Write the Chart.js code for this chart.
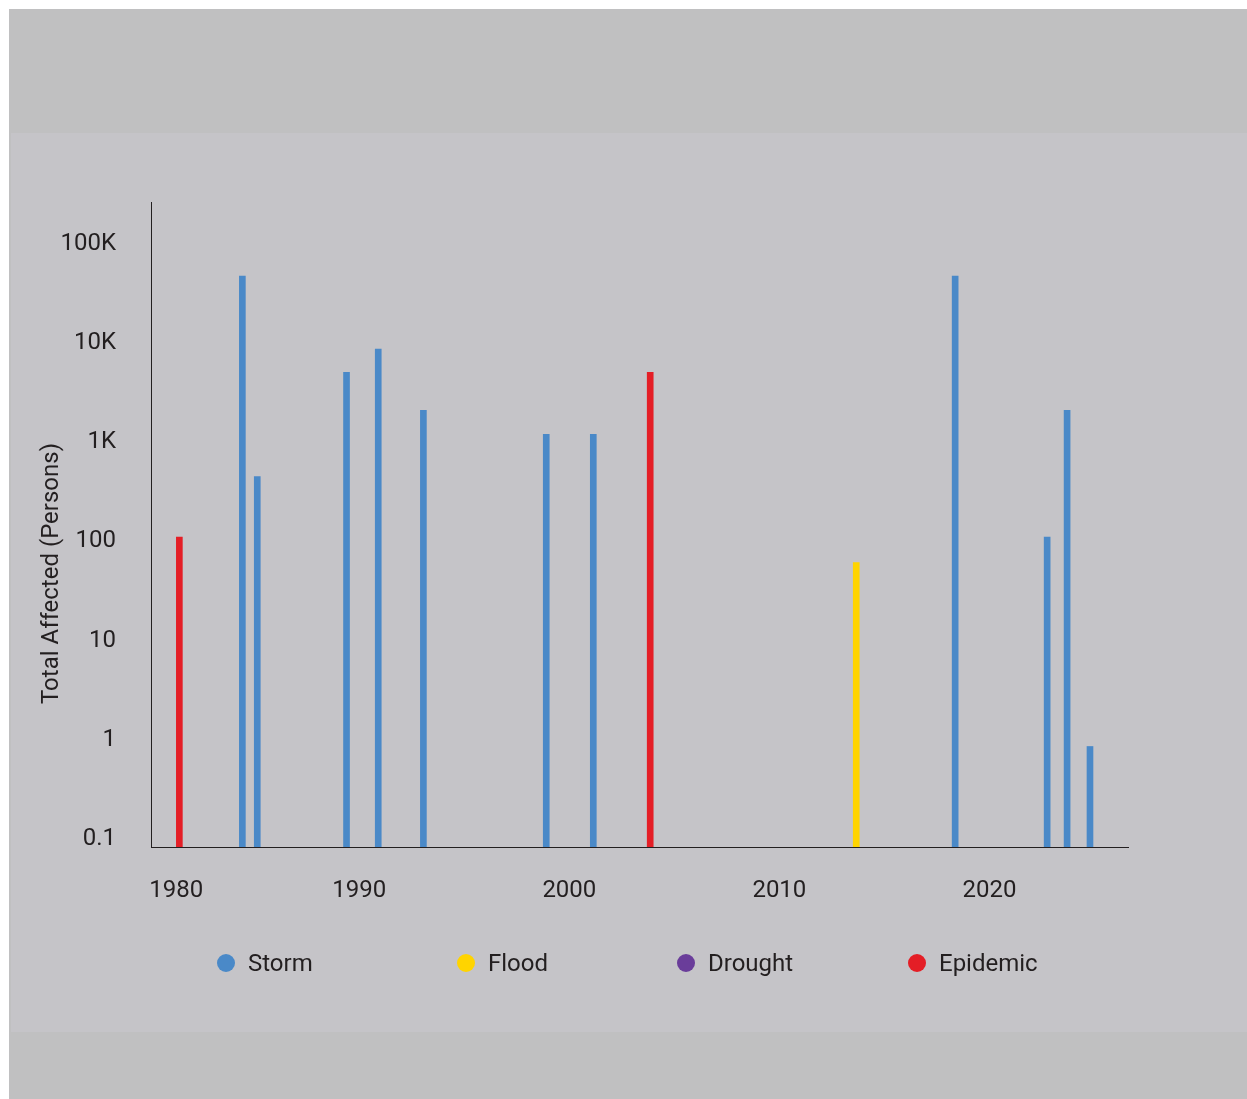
<!DOCTYPE html>
<html>
<head>
<meta charset="utf-8">
<script src="https://cdn.jsdelivr.net/npm/chart.js@4.4.1/dist/chart.umd.min.js"></script>
<style>
  html, body { margin: 0; padding: 0; background: #ffffff; }
  body { width: 1247px; height: 1099px; position: relative; overflow: hidden; font-family: Roboto, sans-serif; }
  .band { position: absolute; left: 9px; top: 9px; width: 1238px; height: 1090px; background: #c0c0c1; }
  .panel { position: absolute; left: 11px; top: 133px; width: 1236px; height: 899px; background: #c5c4c8; }
  #chart { position: absolute; left: 0; top: 0; }
  .legend-item { position: absolute; top: 949px; height: 28px; display: flex; align-items: center; font-size: 24px; color: #231f20; white-space: nowrap; }
  .legend-item span.dot { width: 18px; height: 18px; border-radius: 50%; margin-right: 13px; display: inline-block; }
</style>
</head>
<body>
<div class="band"></div>
<div class="panel"></div>
<canvas id="chart" width="1247" height="1099"></canvas>
<div id="legend"></div>
<script>
// year (decimal) and total affected persons, per disaster type
const stormYears = [1984.43, 1985.14, 1989.39, 1990.9, 1993.05, 1998.9, 2001.14, 2018.37, 2022.75, 2023.7, 2024.79];
const stormValues = [44000, 420, 4700, 8100, 1950, 1120, 1120, 44000, 103, 1950, 0.8];
const floodYears = [2013.66];
const floodValues = [57];
const droughtYears = [];
const droughtValues = [];
const epidemicYears = [1981.43, 2003.85];
const epidemicValues = [103, 4700];

const yTicks = [0.1, 1, 10, 100, 1000, 10000, 100000];
const yTickLabels = ["0.1", "1", "10", "100", "1K", "10K", "100K"];
const xTicks = [1980, 1990, 2000, 2010, 2020];
const yTitle = "Total Affected (Persons)";

const seriesNames = ["Storm", "Flood", "Drought", "Epidemic"];
const seriesColors = ["#4a89c8", "#ffd400", "#6a3d9a", "#e41e26"];
const textColor = "#231f20";

const toPoints = (xs, ys) => xs.map((x, i) => ({ x: x, y: ys[i] }));
const seriesData = [
  toPoints(stormYears, stormValues),
  toPoints(floodYears, floodValues),
  toPoints(droughtYears, droughtValues),
  toPoints(epidemicYears, epidemicValues),
];

Chart.defaults.font.family = "Roboto";
Chart.defaults.font.size = 24;
Chart.defaults.color = textColor;

// y axis title sits lower than the axis centre in the original
const yTitlePlugin = {
  id: "yTitle",
  afterDraw(chart) {
    const area = chart.chartArea;
    const ctx = chart.ctx;
    ctx.save();
    ctx.translate(area.left - 93, (area.top + area.bottom) / 2 + 49);
    ctx.rotate(-Math.PI / 2);
    ctx.font = "24px Roboto";
    ctx.fillStyle = textColor;
    ctx.textAlign = "center";
    ctx.textBaseline = "alphabetic";
    ctx.fillText(yTitle, 0, 0);
    ctx.restore();
  },
};

const ctx = document.getElementById("chart").getContext("2d");
const chart = new Chart(ctx, {
  type: "bar",
  data: {
    datasets: seriesNames.map((name, i) => ({
      label: name,
      data: seriesData[i],
      backgroundColor: seriesColors[i],
      borderWidth: 0,
      barThickness: 6,
      grouped: false,
    })),
  },
  options: {
    responsive: false,
    animation: false,
    layout: {
      padding: { top: 202, right: 119, bottom: 172, left: 0 },
    },
    plugins: {
      legend: { display: false },
      tooltip: { enabled: false },
    },
    scales: {
      x: {
        type: "linear",
        offset: false,
        min: 1980.08,
        max: 2026.6,
        grid: { display: false, drawTicks: false },
        border: { display: true, color: textColor, width: 1 },
        afterBuildTicks: (scale) => {
          scale.ticks = xTicks.map((v) => ({ value: v })).concat([{ value: scale.max }]);
        },
        afterFit: (scale) => {
          scale.height = 80;
        },
        ticks: {
          autoSkip: false,
          maxRotation: 0,
          align: "inner",
          padding: 30,
          callback: (value) => (xTicks.includes(value) ? String(value) : ""),
        },
      },
      y: {
        type: "logarithmic",
        min: 0.0777,
        max: 245000,
        grid: { display: false, drawTicks: false },
        border: { display: true, color: textColor, width: 1 },
        afterBuildTicks: (scale) => {
          scale.ticks = yTicks.map((v) => ({ value: v }));
        },
        afterFit: (scale) => {
          scale.width = 151;
        },
        ticks: {
          autoSkip: false,
          padding: 35,
          labelOffset: 3,
          callback: (value) => {
            const i = yTicks.indexOf(value);
            return i >= 0 ? yTickLabels[i] : "";
          },
        },
      },
    },
  },
  plugins: [yTitlePlugin],
});

// legend laid out as in the original, with uneven spacing
const legendLefts = [217, 457, 677, 908];
const legend = document.getElementById("legend");
seriesNames.forEach((name, i) => {
  const item = document.createElement("div");
  item.className = "legend-item";
  item.style.left = legendLefts[i] + "px";
  const dot = document.createElement("span");
  dot.className = "dot";
  dot.style.background = seriesColors[i];
  item.appendChild(dot);
  item.appendChild(document.createTextNode(name));
  legend.appendChild(item);
});
</script>
</body>
</html>
